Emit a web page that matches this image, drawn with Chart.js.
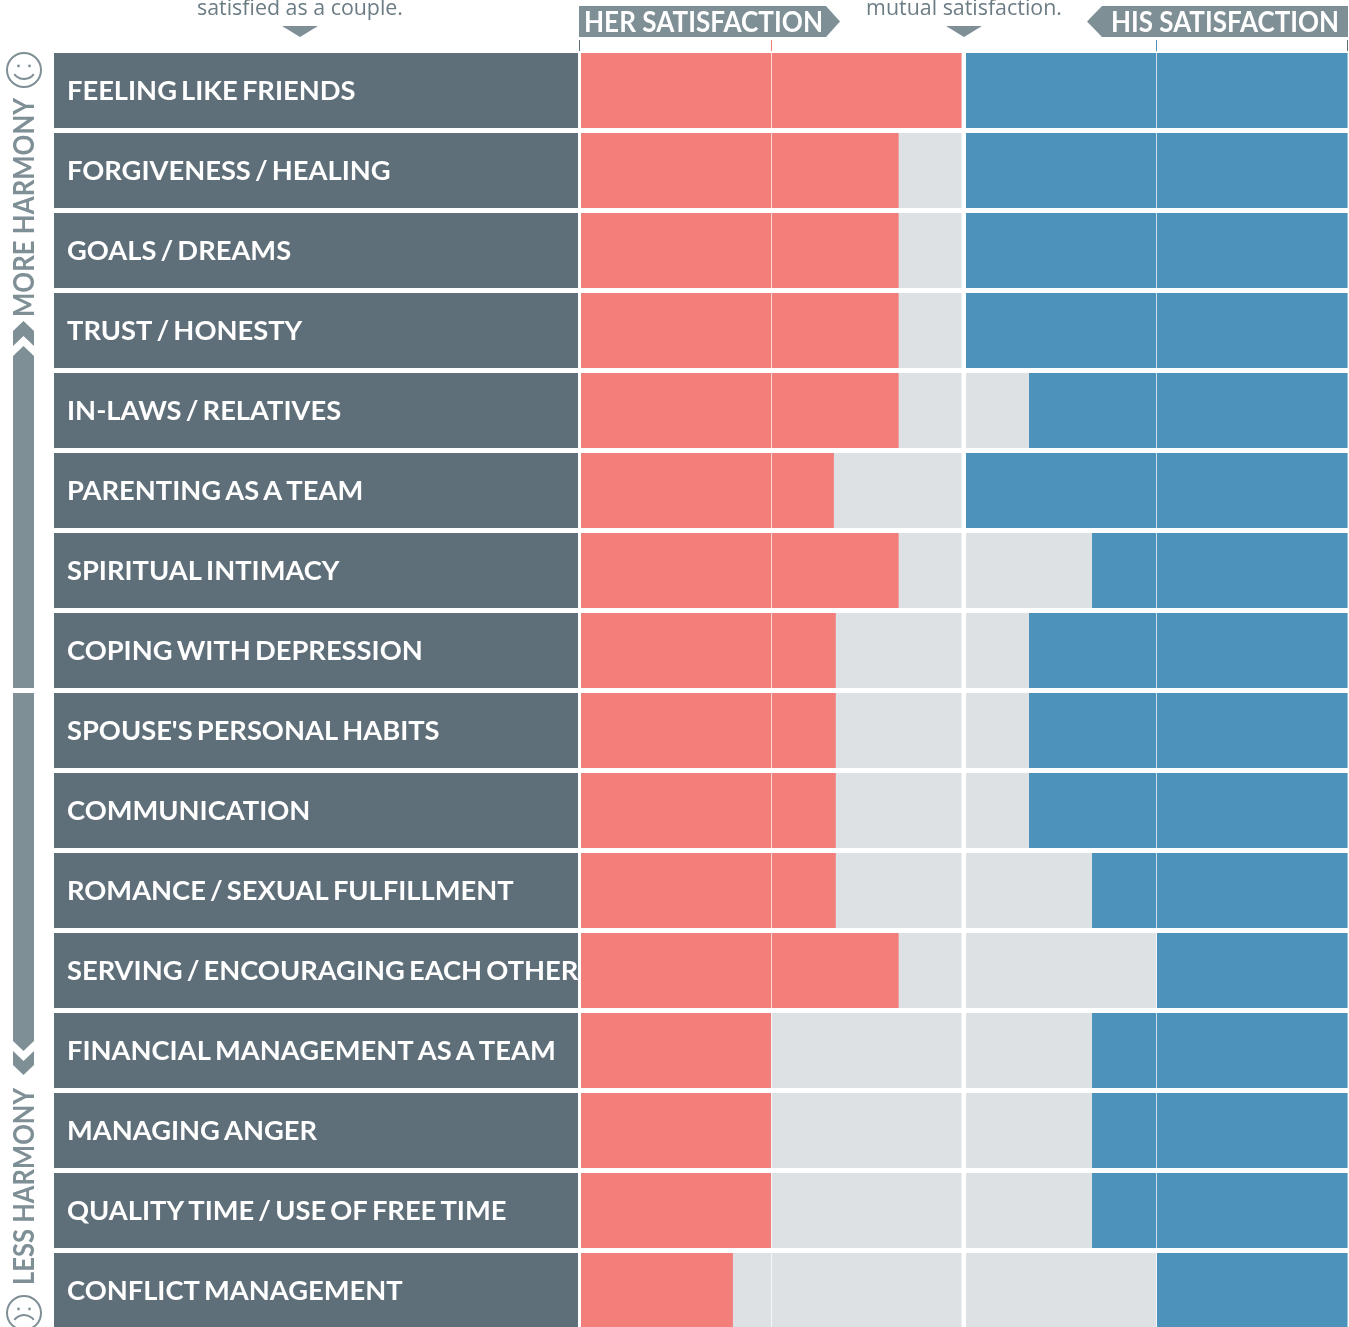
<!DOCTYPE html>
<html>
<head>
<meta charset="utf-8">
<title>Her and his satisfaction</title>
<style>
  html, body { margin:0; padding:0; background:#fff; height:1327px; overflow:hidden; }
  canvas { display:block; }
</style>
<script src="https://cdn.jsdelivr.net/npm/chart.js@4"></script>
</head>
<body>
<canvas id="chart" width="1349" height="1331"></canvas>
<script>
const categories = [
  'FEELING LIKE FRIENDS', 'FORGIVENESS / HEALING', 'GOALS / DREAMS', 'TRUST / HONESTY',
  'IN-LAWS / RELATIVES', 'PARENTING AS A TEAM', 'SPIRITUAL INTIMACY', 'COPING WITH DEPRESSION',
  "SPOUSE'S PERSONAL HABITS", 'COMMUNICATION', 'ROMANCE / SEXUAL FULFILLMENT',
  'SERVING / ENCOURAGING EACH OTHER', 'FINANCIAL MANAGEMENT AS A TEAM', 'MANAGING ANGER',
  'QUALITY TIME / USE OF FREE TIME', 'CONFLICT MANAGEMENT'
];
const herValues = [100, 83.5, 83.5, 83.5, 83.5, 66.5, 83.5, 67, 67, 67, 67, 83.5, 50, 50, 50, 40];
const hisValues = [100, 100, 100, 100, 83.5, 100, 67, 83.5, 83.5, 83.5, 67, 50, 67, 67, 67, 50];
const fullValues = categories.map(() => 100);
const axisTicks = [0, 50];

const SLATE = '#5f6f79';
const RED = '#f37f7a';
const BLUE = '#4c92bb';
const TRACK = '#dee1e3';
const BADGE = '#7f8f96';
const NOTE = '#6c7c84';
const GRID = 'rgba(255,255,255,.7)';
const NO_GRID = 'rgba(0,0,0,0)';

const bar = { barPercentage: 75 / 80, categoryPercentage: 1, grouped: false, borderWidth: 0 };

function poly(ctx, pts, color) {
  ctx.fillStyle = color;
  ctx.beginPath();
  pts.forEach((p, i) => i ? ctx.lineTo(p[0], p[1]) : ctx.moveTo(p[0], p[1]));
  ctx.closePath();
  ctx.fill();
}

function face(ctx, cx, cy, smile) {
  ctx.strokeStyle = BADGE;
  ctx.fillStyle = BADGE;
  ctx.lineWidth = 2;
  ctx.beginPath(); ctx.arc(cx, cy, 17, 0, Math.PI * 2); ctx.stroke();
  [-5.5, 5.5].forEach(d => { ctx.beginPath(); ctx.arc(cx + d, cy - 4, 1.4, 0, Math.PI * 2); ctx.fill(); });
  ctx.beginPath();
  if (smile) ctx.arc(cx, cy - 3, 12, Math.PI * 0.2, Math.PI * 0.8);
  else ctx.arc(cx, cy + 14, 12, Math.PI * 1.2, Math.PI * 1.8);
  ctx.stroke();
}

function sideText(ctx, text, x, y, align, width) {
  ctx.save();
  ctx.translate(x, y);
  ctx.rotate(-Math.PI / 2);
  ctx.textAlign = align;
  ctx.textBaseline = 'middle';
  ctx.font = '700 28px Lato';
  ctx.fillStyle = BADGE;
  ctx.fillText(text, 0, 0, width);
  ctx.restore();
}

// risquinhos acima das barras: eixos empilhados nao reservam altura para eles
function axisMarks(ctx, scale, midColor) {
  axisTicks.forEach(value => {
    const x = Math.round(scale.getPixelForValue(value) - 0.5) - (value === 0 ? 1 : 0);
    ctx.fillStyle = value === 0 ? SLATE : midColor;
    ctx.fillRect(x, 40, 1, 11);
  });
}

const annotations = {
  id: 'annotations',
  beforeDraw(chart) {
    // a fonte do original tem espacos mais curtos
    chart.ctx.wordSpacing = '-2.5px';
  },
  afterDraw(chart) {
    const ctx = chart.ctx;
    ctx.save();
    ctx.wordSpacing = '0px';

    // cabecalho
    poly(ctx, [[579, 6], [826, 6], [840, 21.5], [826, 37], [579, 37]], BADGE);
    poly(ctx, [[1348, 6], [1102, 6], [1087, 21.5], [1102, 37], [1348, 37]], BADGE);
    ctx.textBaseline = 'alphabetic';
    ctx.textAlign = 'left';
    ctx.font = '700 28px Lato';
    ctx.fillStyle = '#fff';
    ctx.fillText('HER SATISFACTION', 584, 32, 239);
    ctx.fillText('HIS SATISFACTION', 1111, 32, 228);

    ctx.textAlign = 'center';
    ctx.font = '21.4px "Open Sans"';
    ctx.fillStyle = NOTE;
    ctx.fillText('satisfied as a couple.', 300, 15);
    ctx.fillText('mutual satisfaction.', 964, 15);
    poly(ctx, [[282, 26], [318, 26], [300, 37]], BADGE);
    poly(ctx, [[946, 26], [982, 26], [964, 37]], BADGE);

    axisMarks(ctx, chart.scales.xHer, RED);
    axisMarks(ctx, chart.scales.xHis, BLUE);

    // lateral
    face(ctx, 24, 70, true);
    face(ctx, 24, 1313, false);
    sideText(ctx, 'MORE HARMONY', 25, 98, 'right', 219);
    sideText(ctx, 'LESS HARMONY', 25, 1285, 'left', 197);
    poly(ctx, [[13, 331], [23.5, 321], [34, 331], [34, 346], [23.5, 336], [13, 346]], BADGE);
    poly(ctx, [[13, 356], [23.5, 346], [34, 356], [34, 688], [13, 688]], BADGE);
    poly(ctx, [[13, 693], [34, 693], [34, 1041], [23.5, 1051], [13, 1041]], BADGE);
    poly(ctx, [[13, 1051], [23.5, 1061], [34, 1051], [34, 1065], [23.5, 1075], [13, 1065]], BADGE);

    ctx.restore();
  }
};

const overlayTick = {
  afterBuildTicks: scale => { scale.ticks = axisTicks.map(value => ({ value })); }
};

new Chart(document.getElementById('chart').getContext('2d'), {
  type: 'bar',
  data: {
    labels: categories,
    datasets: [
      { label: 'Panel', data: fullValues, xAxisID: 'xPanel', backgroundColor: SLATE, order: 1, ...bar },
      { label: 'Her satisfaction', data: herValues, xAxisID: 'xHer', backgroundColor: RED, order: 1, ...bar },
      { label: 'Her rest', data: fullValues, xAxisID: 'xHer', backgroundColor: TRACK, order: 2, ...bar },
      { label: 'His satisfaction', data: hisValues, xAxisID: 'xHis', backgroundColor: BLUE, order: 1, ...bar },
      { label: 'His rest', data: fullValues, xAxisID: 'xHis', backgroundColor: TRACK, order: 2, ...bar }
    ]
  },
  options: {
    indexAxis: 'y',
    responsive: false,
    animation: false,
    devicePixelRatio: 1,
    layout: { padding: { left: 54, right: 1, top: 50.5, bottom: 0.5 } },
    plugins: { legend: { display: false }, tooltip: { enabled: false } },
    scales: {
      y: {
        type: 'category',
        position: 'left',
        grid: { display: false },
        border: { display: false },
        afterFit: s => { s.width = 0; s.paddingTop = 0; s.paddingBottom = 0; },
        ticks: {
          mirror: true,
          z: 2,
          padding: 13,
          labelOffset: 1,
          autoSkip: false,
          color: '#fff',
          font: { family: 'Lato', weight: '700', size: 27.3 }
        }
      },
      // os eixos "top" empilhados sao colocados na ordem inversa
      xHis: {
        type: 'linear', position: 'top', stack: 'top', stackWeight: 384.5,
        reverse: true,
        min: 0, max: 100.65,
        ...overlayTick,
        border: { display: false },
        grid: {
          z: 1,
          drawTicks: false,
          color: c => c.tick && c.tick.value === 50 ? GRID : NO_GRID
        },
        ticks: { display: false }
      },
      xHer: {
        type: 'linear', position: 'top', stack: 'top', stackWeight: 383,
        min: 0, max: 100.52,
        ...overlayTick,
        border: { display: false },
        grid: {
          z: 1,
          drawTicks: false,
          color: c => c.tick && c.tick.value === 50 ? GRID : NO_GRID
        },
        ticks: { display: false }
      },
      xPanel: {
        type: 'linear', position: 'top', stack: 'top', stackWeight: 526.5,
        min: 0, max: 100.48,
        display: false
      }
    }
  },
  plugins: [annotations]
});
</script>
</body>
</html>
